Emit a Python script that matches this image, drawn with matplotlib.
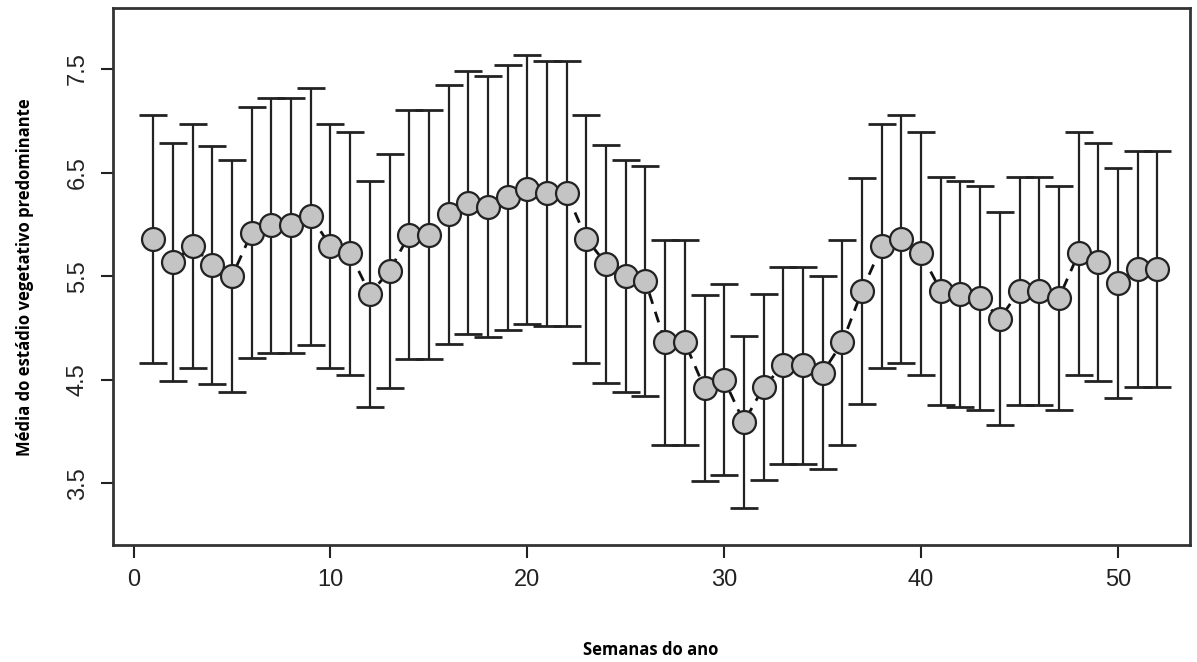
import numpy as np
import matplotlib
matplotlib.use("Agg")
import matplotlib.pyplot as plt


# =========================
# 1. Dados
# =========================

semanas = np.arange(1, 53)

media = [
    5.86, 5.64, 5.79, 5.61, 5.50, 5.92, 5.99, 5.99, 6.08, 5.79,
    5.72, 5.33, 5.55, 5.90, 5.90, 6.10, 6.21, 6.17, 6.26, 6.34,
    6.30, 6.30, 5.86, 5.62, 5.50, 5.45, 4.86, 4.86, 4.42, 4.50,
    4.09, 4.43, 4.64, 4.64, 4.57, 4.86, 5.36, 5.79, 5.86, 5.72,
    5.36, 5.33, 5.29, 5.09, 5.36, 5.36, 5.29, 5.72, 5.64, 5.43,
    5.57, 5.57
]

desvio = [
    1.20, 1.15, 1.18, 1.15, 1.12, 1.21, 1.23, 1.23, 1.24, 1.18,
    1.17, 1.09, 1.13, 1.20, 1.20, 1.25, 1.27, 1.26, 1.28, 1.30,
    1.28, 1.28, 1.20, 1.15, 1.12, 1.11, 0.99, 0.99, 0.90, 0.92,
    0.83, 0.90, 0.95, 0.95, 0.93, 0.99, 1.09, 1.18, 1.20, 1.17,
    1.10, 1.09, 1.08, 1.03, 1.10, 1.10, 1.08, 1.17, 1.15, 1.11,
    1.14, 1.14
]

y_ticks = [3.5, 4.5, 5.5, 6.5, 7.5]
x_ticks = [0, 10, 20, 30, 40, 50]


# =========================
# 2. Figura
# =========================

fig = plt.figure(figsize=(11.97, 6.62), dpi=100)

ax = fig.add_axes([0.094, 0.176, 0.900, 0.812])


# barras de erro
ax.errorbar(
    semanas,
    media,
    yerr=desvio,
    fmt="none",
    ecolor="#222222",
    elinewidth=1.6,
    capsize=10,
    capthick=2,
    zorder=1
)

# linha tracejada
ax.plot(
    semanas,
    media,
    color="#111111",
    linestyle=(0, (4, 3)),
    linewidth=2,
    zorder=2
)

# pontos
ax.plot(
    semanas,
    media,
    "o",
    markersize=16.5,
    markerfacecolor="#c4c4c4",
    markeredgecolor="#222222",
    markeredgewidth=1.6,
    zorder=3
)


# =========================
# 3. Eixos
# =========================

ax.set_xlim(-1.07, 53.65)
ax.set_ylim(2.9, 8.09)

ax.set_xticks(x_ticks)
ax.set_yticks(y_ticks)
ax.set_yticklabels([str(v) for v in y_ticks], rotation=90, va="center")

for lab in ax.get_xticklabels() + ax.get_yticklabels():
    lab.set_fontfamily("Liberation Sans")
    lab.set_fontsize(17)

ax.tick_params(axis="both", length=9, width=1.5, colors="#222222", pad=8)

for s in ax.spines.values():
    s.set_linewidth(2)
    s.set_color("#333333")

ax.set_xlabel(
    "Semanas do ano",
    fontfamily="Open Sans",
    fontweight="bold",
    fontsize=12,
    labelpad=36
)

ax.set_ylabel(
    "Média do estádio vegetativo predominante",
    fontfamily="Open Sans",
    fontweight="bold",
    fontsize=12,
    labelpad=24
)


fig.savefig("out.png", dpi=100)
